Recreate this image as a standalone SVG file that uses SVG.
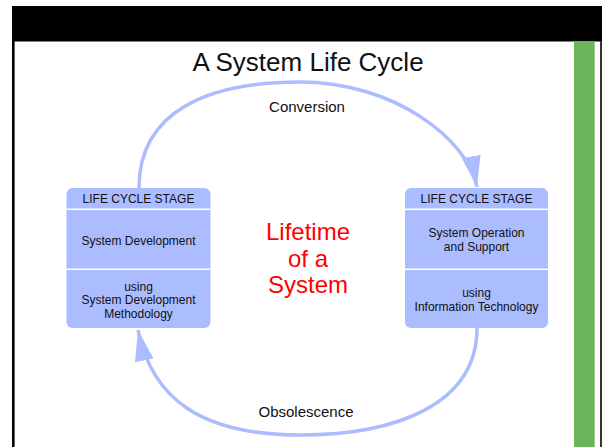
<svg xmlns="http://www.w3.org/2000/svg" width="602" height="447" viewBox="0 0 602 447">
  <style>
    text { font-family: "Liberation Sans", Arial, sans-serif; fill: #111; text-anchor: middle; }
    .box { fill: #abbdff; }
    .sep { stroke: #ffffff; stroke-width: 1.5; }
    .stage { font-size: 12px; }
    .flow { fill: none; stroke: #abbdff; stroke-width: 3.5; }
    .label { font-size: 15px; }
    .center { font-size: 24px; fill: #ff0000; }
  </style>
  <defs>
    <marker id="arrow" viewBox="0 -10 32 20" markerUnits="userSpaceOnUse" markerWidth="32" markerHeight="20" refX="31" refY="0" orient="auto">
      <path d="M0,-9.5 L31,0 L0,9.5 z" fill="#abbdff"/>
    </marker>
  </defs>

  <!-- page frame -->
  <rect x="0" y="0" width="602" height="447" fill="#ffffff"/>
  <rect x="12" y="6" width="590" height="35.5" fill="#000000"/>
  <rect x="12" y="41" width="2.6" height="406" fill="#000000"/>
  <rect x="574" y="41" width="20.7" height="406" fill="#6db55a"/>
  <rect x="600" y="41" width="2" height="406" fill="#333333"/>

  <text x="308" y="71" style="font-size:26px">A System Life Cycle</text>

  <!-- connectors -->
  <g id="connectors">
    <path class="flow" d="M139,188 C139,110 210,82 300,82 C395,82 468,140 477,187" marker-end="url(#arrow)"/>
    <path class="flow" d="M477,328 C477,405 395,435 300,435 C200,435 152,398 138,330" marker-end="url(#arrow)"/>
    <text class="label" x="307" y="111.5">Conversion</text>
    <text class="label" x="306" y="416.5">Obsolescence</text>
  </g>

  <!-- development stage -->
  <g id="stage-development">
    <rect class="box" x="66.5" y="188" width="144" height="140" rx="6"/>
    <line class="sep" x1="66.5" y1="209.3" x2="210.5" y2="209.3"/>
    <line class="sep" x1="66.5" y1="269.3" x2="210.5" y2="269.3"/>
    <text class="stage" x="138.5" y="203.3">LIFE CYCLE STAGE</text>
    <text class="stage" x="138.5" y="245">System Development</text>
    <text class="stage" x="138.5" y="290.5">using</text>
    <text class="stage" x="138.5" y="304">System Development</text>
    <text class="stage" x="138.5" y="318">Methodology</text>
  </g>

  <!-- operation stage -->
  <g id="stage-operation">
    <rect class="box" x="405" y="188" width="143" height="140" rx="6"/>
    <line class="sep" x1="405" y1="209.3" x2="548" y2="209.3"/>
    <line class="sep" x1="405" y1="269.3" x2="548" y2="269.3"/>
    <text class="stage" x="476.5" y="203.3">LIFE CYCLE STAGE</text>
    <text class="stage" x="476.5" y="236.5">System Operation</text>
    <text class="stage" x="476.5" y="250.5">and Support</text>
    <text class="stage" x="476.5" y="296.5">using</text>
    <text class="stage" x="476.5" y="310.5">Information Technology</text>
  </g>

  <!-- centre caption -->
  <g id="lifetime">
    <text class="center" x="308" y="239.5">Lifetime</text>
    <text class="center" x="308" y="266.5">of a</text>
    <text class="center" x="308" y="293">System</text>
  </g>
</svg>
